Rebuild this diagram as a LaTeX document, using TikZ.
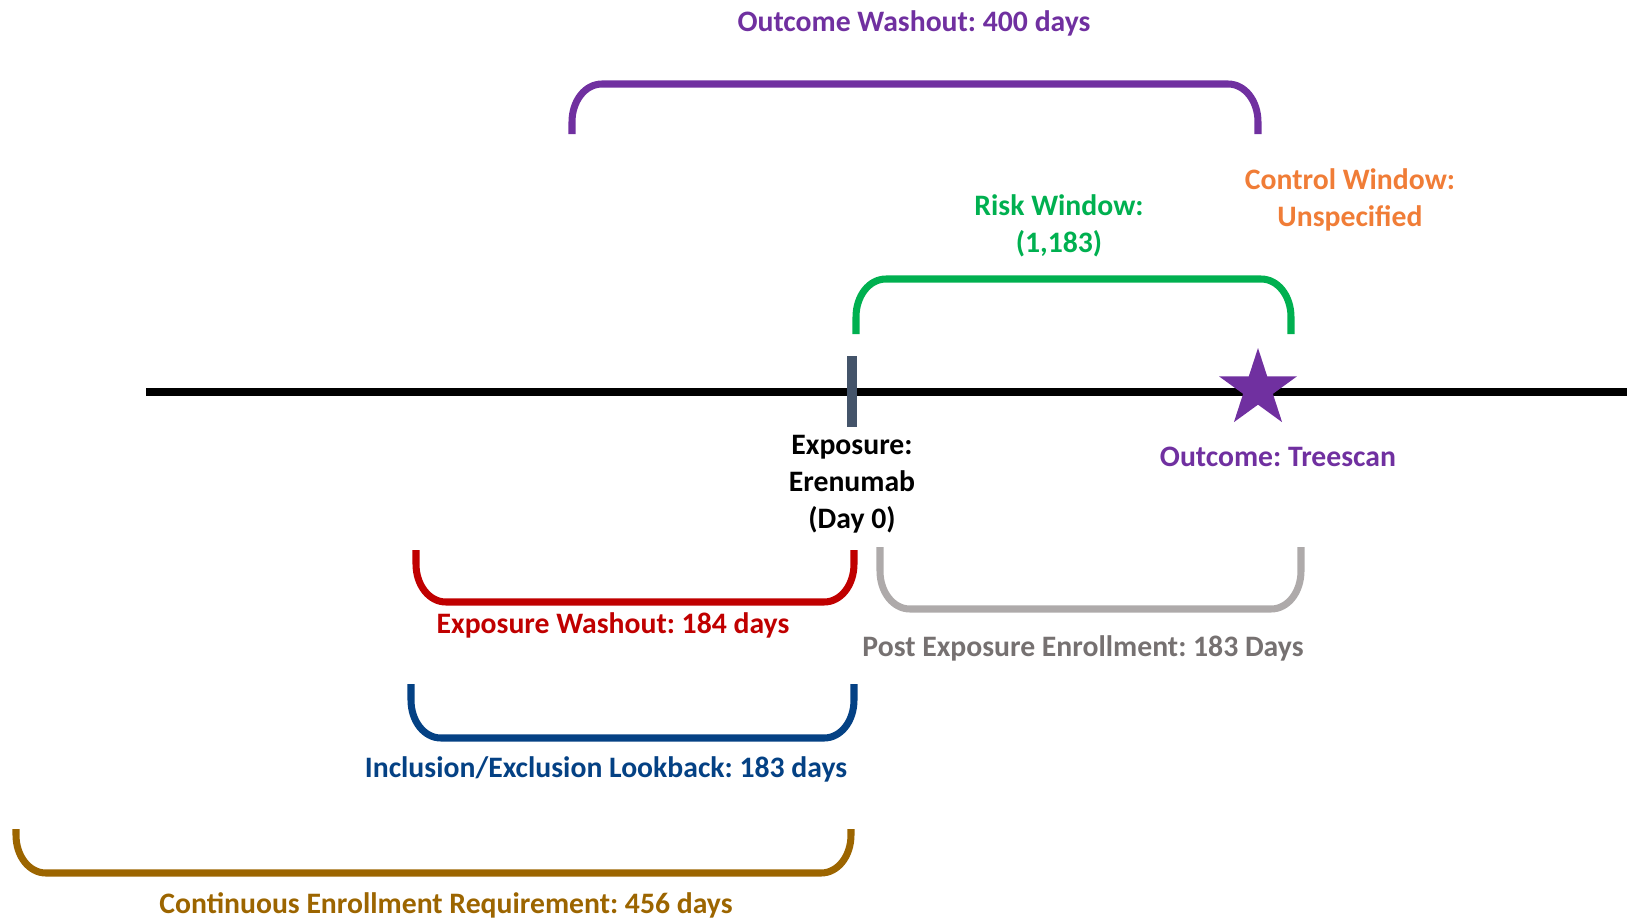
\documentclass[tikz,border=0pt]{standalone}
\usepackage{fontspec}
\setmainfont{Carlito}
\usetikzlibrary{shapes.geometric}
\frenchspacing

\definecolor{owpurple}{RGB}{112,48,160}
\definecolor{rwgreen}{RGB}{0,176,80}
\definecolor{cworange}{RGB}{240,125,55}
\definecolor{ewred}{RGB}{192,0,0}
\definecolor{ielblue}{RGB}{4,65,132}
\definecolor{cegold}{RGB}{156,101,0}
\definecolor{pegray}{RGB}{174,170,170}
\definecolor{petext}{RGB}{118,113,113}
\definecolor{slate}{RGB}{68,84,106}

\tikzset{
  brk/.style={line width=4pt},
  lbl/.style={font=\fontsize{16.9}{21}\selectfont\bfseries, align=center, inner sep=0pt},
}

% window with its ends at the bottom: colour, x left, x right, y of ends, y of top
\newcommand{\capup}[5]{%
  \draw[brk,#1] (#2,-#4) -- (#2,{-(#5+38)})
    .. controls (#2,{-(#5+17)}) and ({#2+13},-#5) .. ({#2+30},-#5)
    -- ({#3-30},-#5)
    .. controls ({#3-13},-#5) and (#3,{-(#5+17)}) .. (#3,{-(#5+38)})
    -- (#3,-#4);}
% window with its ends at the top: colour, x left, x right, y of ends, y of bottom
\newcommand{\capdown}[5]{%
  \draw[brk,#1] (#2,-#4) -- (#2,{-(#5-38)})
    .. controls (#2,{-(#5-17)}) and ({#2+13},-#5) .. ({#2+30},-#5)
    -- ({#3-30},-#5)
    .. controls ({#3-13},-#5) and (#3,{-(#5-17)}) .. (#3,{-(#5-38)})
    -- (#3,-#4);}

\begin{document}
\begin{tikzpicture}[x=0.02cm, y=0.02cm]
  \useasboundingbox (0,0) rectangle (1627,-920);

  % time line
  \coordinate (tstart) at (146,-392);
  \coordinate (tend) at (1627,-392);
  \draw[line width=4pt] (tstart) -- (tend);
  \draw[slate, line width=0.2cm] (852,-356) -- (852,-427);
  \node[star, star points=5, star point ratio=2.618, fill=owpurple, inner sep=0pt,
        minimum size=1.64cm] (outstar) at (1258,-389) {};

  % windows above
  \capup{owpurple}{572}{1258}{134}{84}
  \capup{rwgreen}{856}{1291}{334}{279}

  % windows below
  \capdown{ewred}{416}{854}{550}{602}
  \capdown{pegray}{880}{1301}{547}{609}
  \capdown{ielblue}{411}{854}{684}{738}
  \capdown{cegold}{16}{851}{829}{873}

  % labels
  \node[lbl, owpurple] (owlab) at (914,-23) {Outcome Washout: 400 days};
  \node[lbl, rwgreen] (rwlab) at (1059,-226) {Risk Window:\\(1,183)};
  \node[lbl, cworange] (cwlab) at (1350,-200) {Control Window:\\Unspecified};
  \node[lbl, black] (exlab) at (852,-484) {Exposure:\\Erenumab\\(Day 0)};
  \node[lbl, owpurple] (oclab) at (1278,-457) {Outcome: Treescan};
  \node[lbl, ewred] (ewlab) at (613,-625) {Exposure Washout: 184 days};
  \node[lbl, petext] (pelab) at (1083,-648) {Post Exposure Enrollment: 183 Days};
  \node[lbl, ielblue] (iellab) at (606,-769) {Inclusion/Exclusion Lookback: 183 days};
  \node[lbl, cegold] (celab) at (446,-905) {Continuous Enrollment Requirement: 456 days};
\end{tikzpicture}
\end{document}
